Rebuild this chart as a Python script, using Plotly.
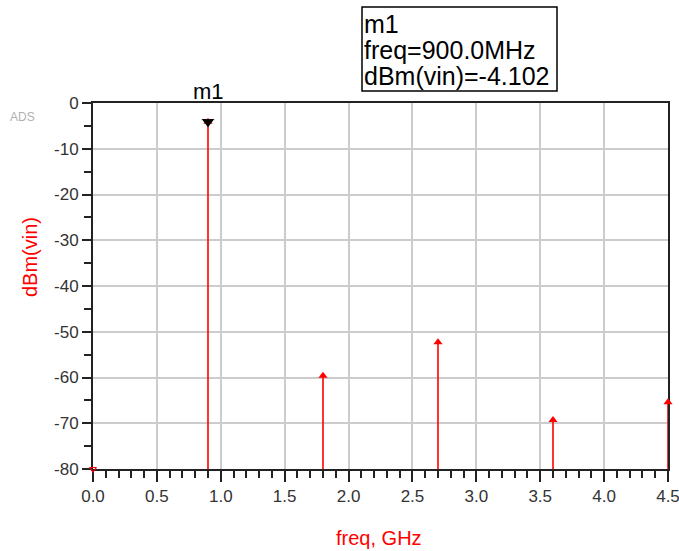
import plotly.graph_objects as go

freq_ghz = [0.9, 1.8, 2.7, 3.6, 4.5]
dbm_vin = [-4.102, -59.6, -52.3, -69.3, -65.4]
dc_freq = [0.0]
dc_val = [-80.0]
marker_freq = 0.9
marker_val = -4.102
floor_val = -80
x_ticks = [0.0, 0.5, 1.0, 1.5, 2.0, 2.5, 3.0, 3.5, 4.0, 4.5]
y_ticks = [0, -10, -20, -30, -40, -50, -60, -70, -80]
readout_lines = ["m1", "freq=900.0MHz", "dBm(vin)=-4.102"]

RED = "#ff0000"
W, H = 679, 551
L, R, T, B = 93, 11, 103, 82
PW, PH = W - L - R, H - T - B


def px(x):
    return (x - L) / PW


def py(y):
    return (H - B - y) / PH


stem_x, stem_y = [], []
for f, v in zip(freq_ghz, dbm_vin):
    stem_x += [f, f, None]
    stem_y += [floor_val, v, None]

fig = go.Figure()
fig.add_trace(go.Scatter(x=stem_x, y=stem_y, mode="lines",
                         line=dict(color=RED, width=1.6), hoverinfo="skip",
                         showlegend=False, cliponaxis=False))
fig.add_trace(go.Scatter(x=freq_ghz, y=dbm_vin, mode="markers",
                         marker=dict(symbol="triangle-up", size=8, color=RED),
                         showlegend=False, cliponaxis=False))
fig.add_trace(go.Scatter(x=dc_freq, y=dc_val, mode="markers",
                         marker=dict(symbol="triangle-down-open", size=6, color=RED,
                                     line=dict(width=1.2)),
                         showlegend=False, cliponaxis=False))
# marker m1
fig.add_trace(go.Scatter(x=[marker_freq], y=[marker_val], mode="markers",
                         marker=dict(symbol="triangle-down", size=11, color="black"),
                         showlegend=False, cliponaxis=False))

fig.add_annotation(x=marker_freq, y=0, xref="x", yref="y", text="m1",
                   showarrow=False, yanchor="bottom", yshift=-3,
                   font=dict(family="Arial", size=22, color="black"))

# readout box
fig.add_shape(type="rect", xref="paper", yref="paper",
              x0=px(362), x1=px(557), y0=py(7), y1=py(91),
              line=dict(color="black", width=1.5), fillcolor="white")
for txt, yc in zip(readout_lines, [24, 50, 76]):
    fig.add_annotation(xref="paper", yref="paper", x=px(362), y=py(yc),
                       xanchor="left", yanchor="middle", showarrow=False,
                       text=txt, font=dict(family="Arial", size=25, color="black"))

fig.add_annotation(xref="paper", yref="paper", x=px(22), y=py(117),
                   text="ADS", showarrow=False, xanchor="center", yanchor="middle",
                   font=dict(family="Arial", size=12, color="#b0b0b0"))

# axis titles
fig.add_annotation(xref="paper", yref="paper", x=px(30), y=py(257),
                   text="dBm(vin)", textangle=-90, showarrow=False,
                   xanchor="center", yanchor="middle",
                   font=dict(family="Arial", size=20, color=RED))
fig.add_annotation(xref="paper", yref="paper", x=px(379), y=py(538),
                   text="freq, GHz", showarrow=False,
                   xanchor="center", yanchor="middle",
                   font=dict(family="Arial", size=20, color=RED))

fig.update_layout(
    width=W, height=H,
    margin=dict(l=L, r=R, t=T, b=B, autoexpand=False),
    paper_bgcolor="white", plot_bgcolor="white",
    font=dict(family="Arial", size=14, color="#333333"),
)
fig.update_xaxes(
    range=[0, 4.5], tickvals=x_ticks, ticktext=[f"{t:.1f}" for t in x_ticks],
    showgrid=True, gridcolor="#cccccc", gridwidth=1.5,
    showline=True, linecolor="#222222", linewidth=2, mirror=True,
    ticks="outside", ticklen=11, tickwidth=2, tickcolor="#222222",
    minor=dict(dtick=0.1, ticks="outside", ticklen=7, tickwidth=1.5,
               tickcolor="#222222", showgrid=False),
    zeroline=False, automargin=False, layer="below traces",
    ticklabeloverflow="allow",
    tickfont=dict(family="Arial", size=17, color="#333333"),
)
fig.update_yaxes(
    range=[-80, 0], tickvals=y_ticks, ticktext=[str(t) for t in y_ticks],
    showgrid=True, gridcolor="#cccccc", gridwidth=1.5,
    showline=True, linecolor="#222222", linewidth=2, mirror=True,
    ticks="outside", ticklen=9, tickwidth=2, tickcolor="#222222",
    minor=dict(dtick=5, ticks="outside", ticklen=7, tickwidth=1.5,
               tickcolor="#222222", showgrid=False),
    zeroline=False, automargin=False, layer="below traces",
    ticklabeloverflow="allow",
    tickfont=dict(family="Arial", size=17, color="#333333"),
)

fig.write_html("out.html", config={"displayModeBar": False},
               post_script="document.body.style.margin='0';document.body.style.overflow='hidden';")
